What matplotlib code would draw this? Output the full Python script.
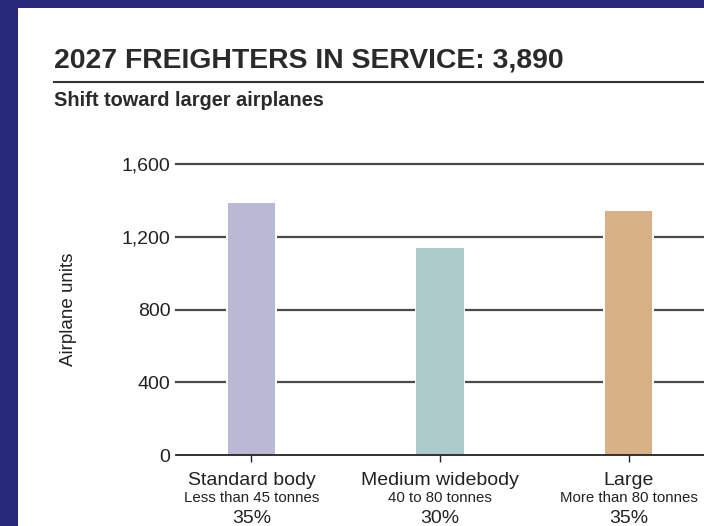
import numpy as np
import matplotlib
matplotlib.use("Agg")
import matplotlib.pyplot as plt
from matplotlib import transforms
from matplotlib.lines import Line2D
from matplotlib.patches import Rectangle

# data
categories = ["Standard body", "Medium widebody", "Large"]
subtitles = ["Less than 45 tonnes", "40 to 80 tonnes", "More than 80 tonnes"]
shares = ["35%", "30%", "35%"]
units = [1385, 1140, 1340]
colors = ["#b9b9d6", "#accbca", "#d8b085"]
yticks = [0, 400, 800, 1200, 1600]
ytick_labels = ["0", "400", "800", "1,200", "1,600"]

W, H = 704, 526
narrow = ["Liberation Sans Narrow", "Liberation Sans", "DejaVu Sans"]

fig = plt.figure(figsize=(W / 100, H / 100), dpi=100)
fig.patch.set_facecolor("#29297a")
# white panel inside the navy frame
fig.patches.append(Rectangle((18 / W, 0), 1, 1 - 8 / H, transform=fig.transFigure,
                             facecolor="white", edgecolor="none", zorder=-1))

ax = fig.add_axes([176 / W, 1 - 455 / H, 1 - 176 / W, (455 - 164) / H])
ax.set_zorder(2)
ax.set_facecolor("none")
x = np.arange(len(categories))
ax.set_xlim(-0.4, 2.4)
ax.set_ylim(0, 1600)

for v in yticks[1:]:
    ax.axhline(v, color="#4a4a4a", lw=1.6, zorder=1, clip_on=False)
# white gap where the gridlines meet the bars
ax.bar(x, units, width=0.27, color="white", zorder=2)
ax.bar(x, units, width=0.25, color=colors, zorder=3)
ax.axhline(0, color="#222222", lw=1.3, zorder=4, clip_on=False)

for s in ax.spines.values():
    s.set_visible(False)
ax.set_yticks(yticks)
ax.set_yticklabels(ytick_labels, family=narrow, fontsize=14, color="#222222")
ax.tick_params(axis="y", length=0, pad=4)
ax.set_xticks(x)
ax.set_xticklabels([])
ax.tick_params(axis="x", length=5, width=1, color="#222222")
ax.set_ylabel("Airplane units", family=narrow, fontsize=13.5, color="#222222", labelpad=32)

tr = transforms.blended_transform_factory(ax.transData, fig.transFigure)
for i in range(len(categories)):
    ax.text(x[i], 1 - 485 / H, categories[i], transform=tr, ha="center", va="baseline",
            family=narrow, fontsize=14, color="#222222")
    ax.text(x[i], 1 - 502 / H, subtitles[i], transform=tr, ha="center", va="baseline",
            family=narrow, fontsize=10.8, color="#222222")
    ax.text(x[i], 1 - 523 / H, shares[i], transform=tr, ha="center", va="baseline",
            family=narrow, fontsize=14, color="#222222")

fig.text(54 / W, 1 - 68 / H, "2027 FREIGHTERS IN SERVICE: 3,890", ha="left", va="baseline",
         family=["Liberation Sans", "DejaVu Sans"], fontsize=20.4, weight="bold", color="#2a2a2a")
fig.lines.append(Line2D([54 / W, 1], [1 - 82 / H, 1 - 82 / H], transform=fig.transFigure,
                        color="#333333", lw=1.5))
fig.text(54 / W, 1 - 106 / H, "Shift toward larger airplanes", ha="left", va="baseline",
         family=narrow, fontsize=14.4, weight="bold", color="#2a2a2a")

fig.savefig("out.png", dpi=100, facecolor=fig.get_facecolor())
